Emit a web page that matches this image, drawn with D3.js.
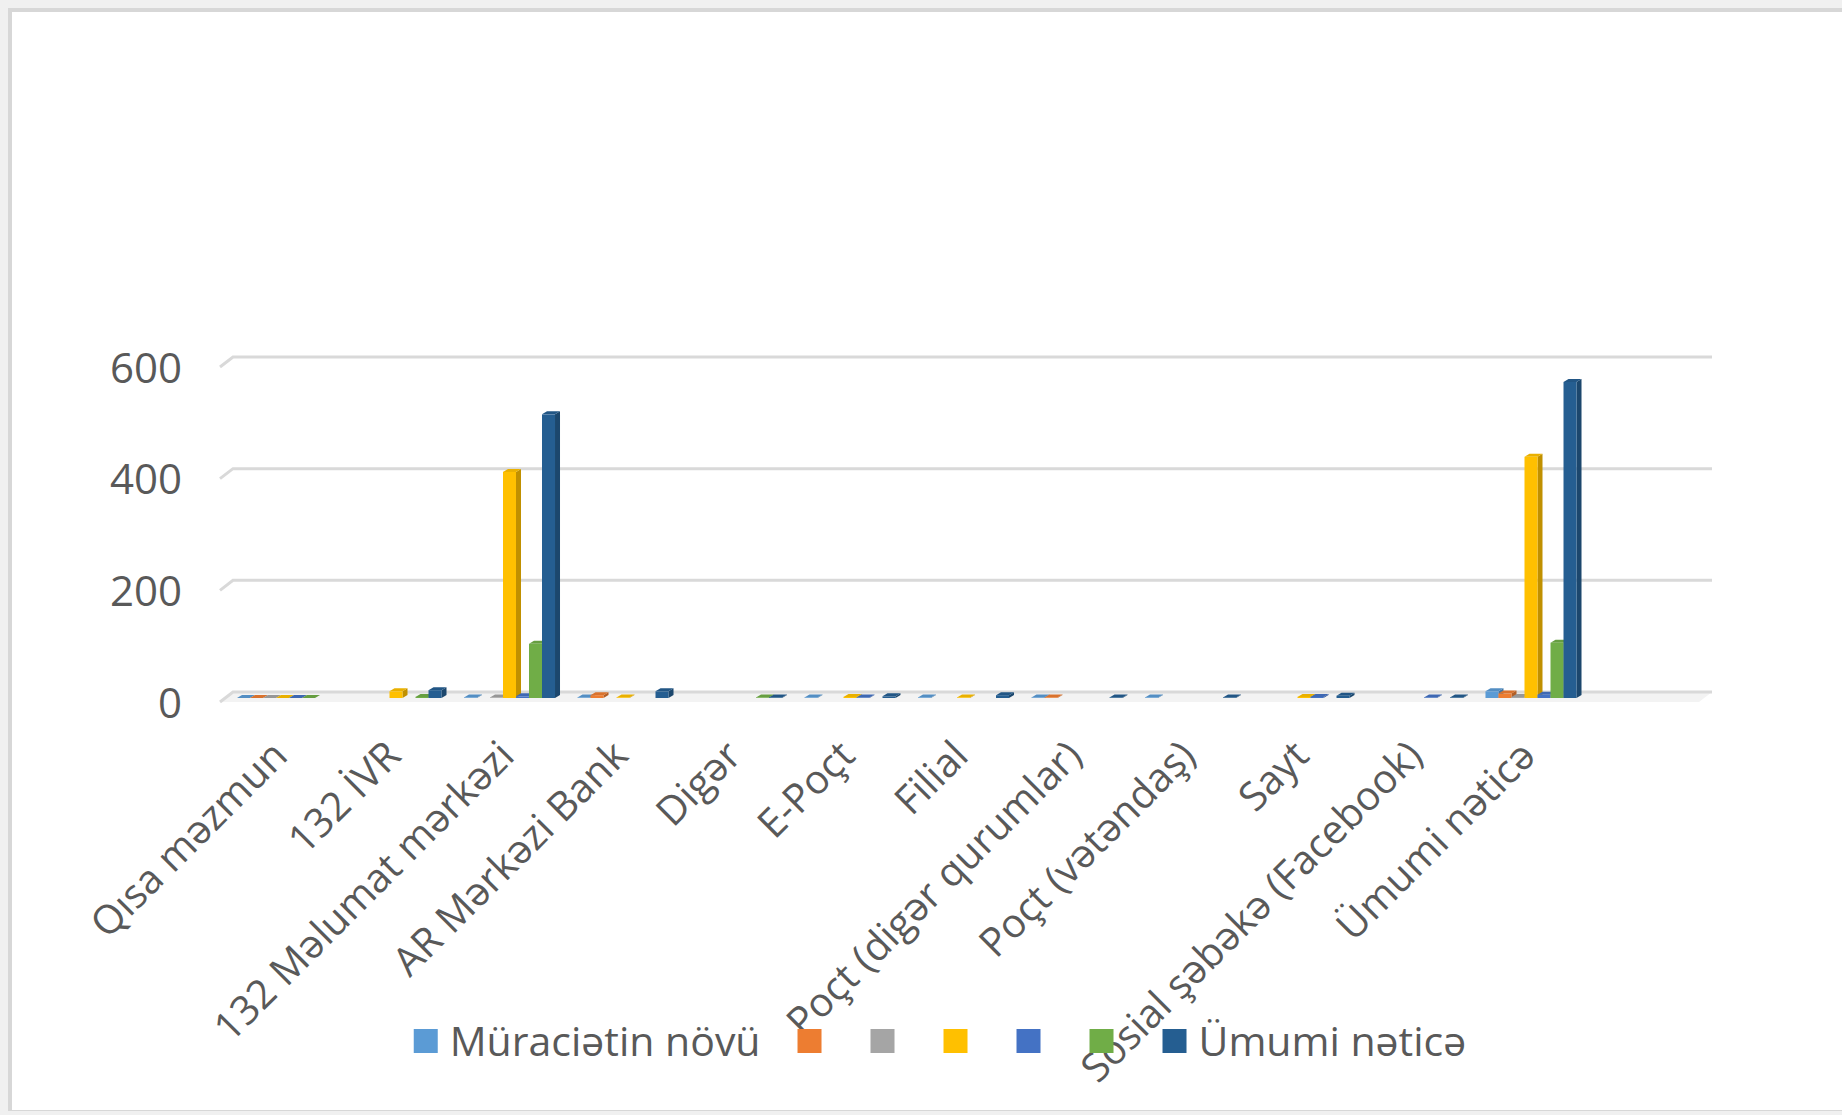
<!DOCTYPE html>
<html>
<head>
<meta charset="utf-8">
<script src="https://d3js.org/d3.v7.min.js"></script>
<style>
  body { margin: 0; background: #f0f0f0; }
  svg { display: block; }
  text { font-family: "Open Sans", sans-serif; fill: #595959; }
</style>
</head>
<body>
<script>
// categories along the x axis (last slot is the empty pivot item)
var categories = ["Qısa məzmun", "132 İVR", "132 Məlumat mərkəzi", "AR Mərkəzi Bank", "Digər",
  "E-Poçt", "Filial", "Poçt (digər qurumlar)", "Poçt (vətəndaş)", "Sayt",
  "Sosial şəbəkə (Facebook)", "Ümumi nəticə", ""];

var seriesNames = ["Müraciətin növü", "", "", "", "", "", "Ümumi nəticə"];
var seriesColors = ["#5b9bd5", "#ed7d31", "#a5a5a5", "#ffc000", "#4472c4", "#70ad47", "#255e91"];

// values per series, null = no bar
var lightBlue = [0, null, 1, 1, null, 1, 1, 1, 1, null, null, 12, null];
var orange    = [0, null, null, 5, null, null, null, 1, null, null, null, 8, null];
var gray      = [0, null, 1, null, null, null, null, null, null, null, null, 2, null];
var yellow    = [0, 12, 405, 1, null, 2, 1, null, null, 2, null, 432, null];
var blue      = [0, null, 3, null, null, 1, null, null, null, 2, 1, 6, null];
var green     = [0, 2, 97, null, 1, null, null, null, null, null, null, 99, null];
var total     = [null, 14, 508, 12, 1, 3, 5, 1, 1, 4, 1, 566, null];
var seriesValues = [lightBlue, orange, gray, yellow, blue, green, total];

var yTicks = [0, 200, 400, 600];

var W = 1842, H = 1115;
var svg = d3.select("body").append("svg").attr("width", W).attr("height", H);

// window frame
svg.append("rect").attr("width", W).attr("height", H).attr("fill", "#f0f0f0");
svg.append("rect").attr("x", 8).attr("y", 8).attr("width", W).attr("height", 1103).attr("fill", "#d7d7d7");
svg.append("rect").attr("x", 12).attr("y", 12).attr("width", W).attr("height", 1098).attr("fill", "#ffffff");

var depthX = 13, depthY = 10;   // wall perspective
var barDX = 5, barDY = 3;       // bar side/top depth

var x = d3.scaleBand()
  .domain(categories)
  .range([225.75, 225.75 + 13 * 113.5])
  .paddingInner(0.198)
  .paddingOuter(0.099);

var xs = d3.scaleBand()
  .domain(d3.range(seriesNames.length))
  .range([0, x.bandwidth()]);

var yBack = d3.scaleLinear().domain([0, 600]).range([692, 357]);
var barOff = 6;

var wallLeft = 233, wallRight = 1712;

// floor
svg.append("path")
  .attr("d", "M" + (wallLeft - depthX) + "," + (yBack(0) + depthY) +
    "L" + wallLeft + "," + yBack(0) +
    "L" + wallRight + "," + yBack(0) +
    "L" + (wallRight - depthX) + "," + (yBack(0) + depthY) + "Z")
  .attr("fill", "#f3f3f3");

// gridlines on the back wall + left diagonal
var grid = svg.append("g").attr("class", "grid");
grid.selectAll("path")
  .data(yTicks)
  .enter().append("path")
  .attr("d", function(t) {
    return "M" + (wallLeft - depthX) + "," + (yBack(t) + depthY) +
      "L" + wallLeft + "," + yBack(t) + "L" + wallRight + "," + yBack(t);
  })
  .attr("fill", "none")
  .attr("stroke", "#d9d9d9")
  .attr("stroke-width", 3);

// y axis labels at front edge
var yAxis = d3.axisLeft(yBack).tickValues(yTicks).tickSize(0).tickPadding(0);
var axisG = svg.append("g")
  .attr("transform", "translate(182," + depthY + ")")
  .call(yAxis);
axisG.select(".domain").remove();
axisG.selectAll("text")
  .attr("font-size", 42)
  .attr("font-family", "Open Sans, sans-serif")
  .attr("fill", "#595959")
  .attr("dy", "0.36em");

// bars
var bars = svg.append("g").attr("class", "bars");
categories.forEach(function(cat, ci) {
  seriesValues.forEach(function(vals, si) {
    var v = vals[ci];
    if (v === null) return;
    var x0 = x(cat) + xs(si), w = xs.bandwidth();
    var yb = yBack(0) + barOff, yt = yBack(v) + barOff;
    var c = d3.color(seriesColors[si]);
    var g = bars.append("g");
    g.append("path")
      .attr("d", "M" + (x0 + w) + "," + yt + "L" + (x0 + w + barDX) + "," + (yt - barDY) +
        "L" + (x0 + w + barDX) + "," + (yb - barDY) + "L" + (x0 + w) + "," + yb + "Z")
      .attr("fill", c.darker(0.8));
    g.append("path")
      .attr("d", "M" + x0 + "," + yt + "L" + (x0 + barDX) + "," + (yt - barDY) +
        "L" + (x0 + w + barDX) + "," + (yt - barDY) + "L" + (x0 + w) + "," + yt + "Z")
      .attr("fill", c.darker(0.25));
    g.append("rect")
      .attr("x", x0).attr("y", yt)
      .attr("width", w).attr("height", Math.max(0, yb - yt))
      .attr("fill", c);
  });
});

// category labels
svg.append("g").selectAll("text")
  .data(categories)
  .enter().append("text")
  .attr("transform", function(d) {
    return "translate(" + (x(d) + x.bandwidth() / 2 + 7) + ",758) rotate(-45)";
  })
  .attr("text-anchor", "end")
  .attr("font-size", 40)
  .text(function(d) { return d; });

// legend
var legend = svg.append("g").attr("class", "legend");
var lx = 0;
seriesNames.forEach(function(name, i) {
  var item = legend.append("g").attr("transform", "translate(" + lx + ",0)");
  item.append("rect")
    .attr("x", 0).attr("y", -12)
    .attr("width", 24).attr("height", 24)
    .attr("fill", seriesColors[i]);
  var tw = 0;
  if (name) {
    var t = item.append("text")
      .attr("x", 36).attr("dy", "0.36em")
      .attr("font-size", 41)
      .text(name);
    tw = t.node().getComputedTextLength();
  }
  lx += 24 + 12 + tw + 37;
});
lx -= 37;
legend.attr("transform", "translate(" + (940 - lx / 2) + ",1041)");
</script>
</body>
</html>
